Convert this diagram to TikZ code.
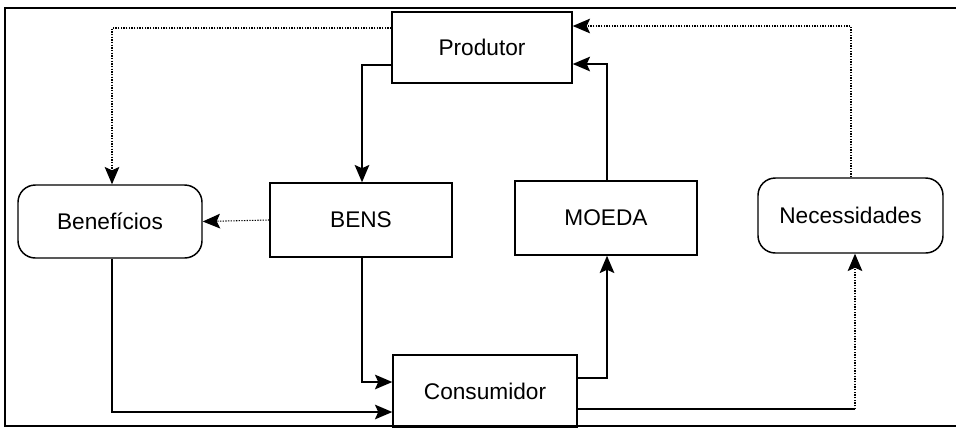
\documentclass[tikz,border=0pt]{standalone}
\usepackage{fontspec}
\setmainfont{Liberation Sans}
\usetikzlibrary{arrows.meta}

\tikzset{
  box/.style={draw, line width=1.1pt, rectangle, minimum width=136.5pt, minimum height=55.5pt,
              inner sep=0pt, font=\fontsize{17}{20}\selectfont},
  roundbox/.style={box, rounded corners=13pt},
  flow/.style={line width=1pt, -{Stealth[length=13pt,width=11pt,inset=2.5pt]}},
  faint/.style={flow, densely dotted, line width=0.8pt},
  plain/.style={line width=1pt}
}

\begin{document}
\begin{tikzpicture}[x=0.75pt,y=-0.75pt]
  \useasboundingbox (0,0) rectangle (956,430);

  % outer frame
  \draw[line width=1.8pt] (956,8) -- (5,8) -- (5,426) -- (956,426);

  % nodes
  \node[box, minimum width=135pt, minimum height=53.25pt] (prod) at (482,47.5) {Produtor};
  \node[roundbox, minimum width=138pt, minimum height=54.75pt] (ben) at (110,221.5) {Benefícios};
  \node[box] (bens) at (361,220) {BENS};
  \node[box] (moeda) at (606,218) {MOEDA};
  \node[roundbox, minimum width=138.75pt, minimum height=56.25pt] (nec) at (850.5,215.5) {Necessidades};
  \node[box, minimum width=138pt, minimum height=54pt] (cons) at (485,391) {Consumidor};

  % bend points
  \coordinate (c1) at (112,28);
  \coordinate (c2) at (362,65);
  \coordinate (c4) at (362,382);
  \coordinate (c5) at (112,412);
  \coordinate (c6) at (607,378);
  \coordinate (c7) at (607,64);
  \coordinate (c8) at (855,409);
  \coordinate (c9) at (851,26);

  % connectors
  \draw[faint] (prod.west |- c1) -- (c1) -- (c1 |- ben.north);
  \draw[flow] (prod.west |- c2) -- (c2) -- (c2 |- bens.north);
  \draw[faint] (bens.west) -- (ben.east);
  \draw[flow] (c4 |- bens.south) -- (c4) -- (cons.west |- c4);
  \draw[flow] (c5 |- ben.south) -- (c5) -- (cons.west |- c5);
  \draw[flow] (cons.east |- c6) -- (c6) -- (c6 |- moeda.south);
  \draw[flow] (c7 |- moeda.north) -- (c7) -- (prod.east |- c7);
  \draw[plain] (cons.east |- c8) -- (c8);
  \draw[faint] (c8) -- (c8 |- nec.south);
  \draw[faint] (c9 |- nec.north) -- (c9) -- (prod.east |- c9);
\end{tikzpicture}
\end{document}
